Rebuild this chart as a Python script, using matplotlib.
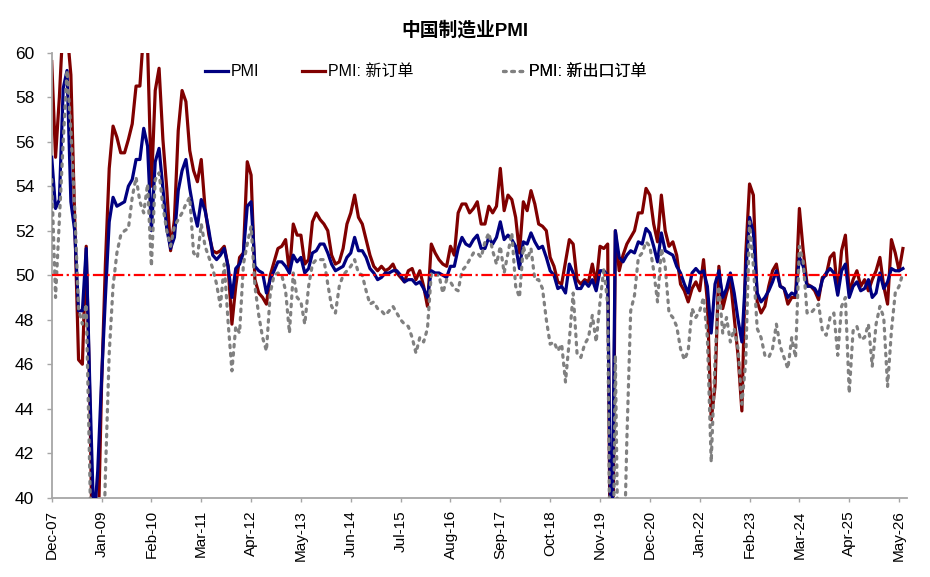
import numpy as np
import matplotlib
matplotlib.use("Agg")
import matplotlib.pyplot as plt

plt.rcParams["font.family"] = ["Liberation Sans", "Noto Sans CJK SC", "DejaVu Sans"]

# Monthly values, Dec-07 .. Jun-26
pmi = [
    55.3,
    53.0, 53.4, 58.4, 59.2, 53.3, 52.0, 48.4, 48.4, 51.2, 44.6, 38.8, 41.2,
    45.3, 49.0, 52.4, 53.5, 53.1, 53.2, 53.3, 54.0, 54.3, 55.2, 55.2, 56.6,
    55.8, 52.0, 55.1, 55.7, 53.9, 52.1, 51.2, 51.7, 53.8, 54.7, 55.2, 53.9,
    52.9, 52.2, 53.4, 52.9, 52.0, 50.9, 50.7, 50.9, 51.2, 50.4, 49.0, 50.3,
    50.5, 51.0, 53.1, 53.3, 50.4, 50.2, 50.1, 49.2, 49.8, 50.2, 50.6, 50.6,
    50.4, 50.1, 50.9, 50.6, 50.8, 50.1, 50.3, 51.0, 51.1, 51.4, 51.4, 51.0,
    50.5, 50.2, 50.3, 50.4, 50.8, 51.0, 51.7, 51.1, 51.1, 50.8, 50.3, 50.1,
    49.8, 49.9, 50.1, 50.1, 50.2, 50.2, 50.0, 49.7, 49.8, 49.8, 49.6, 49.7,
    49.4, 49.0, 50.2, 50.1, 50.1, 50.0, 49.9, 50.4, 50.4, 51.2, 51.7, 51.4,
    51.3, 51.6, 51.8, 51.2, 51.2, 51.7, 51.4, 51.7, 52.4, 51.6, 51.8, 51.6,
    51.3, 50.3, 51.5, 51.4, 51.9, 51.5, 51.2, 51.3, 50.8, 50.2, 50.0, 49.4,
    49.5, 49.2, 50.5, 50.1, 49.4, 49.4, 49.7, 49.5, 49.8, 49.3, 50.2, 50.2,
    50.0, 35.7, 52.0, 50.8, 50.6, 50.9, 51.1, 51.0, 51.5, 51.4, 52.1, 51.9,
    51.3, 50.6, 51.9, 51.1, 51.0, 50.9, 50.4, 50.1, 49.6, 49.2, 50.1, 50.3,
    50.1, 50.2, 49.5, 47.4, 49.6, 50.2, 49.0, 49.4, 50.1, 49.2, 48.0, 47.0,
    50.1, 52.6, 51.9, 49.2, 48.8, 49.0, 49.3, 49.7, 50.2, 49.5, 49.4, 49.0,
    49.2, 49.1, 50.8, 50.4, 49.5, 49.5, 49.4, 49.1, 49.8, 50.1, 50.3, 50.1,
    49.1, 50.2, 50.5, 49.0, 49.5, 49.7, 49.3, 49.4, 49.8, 49.0, 49.2, 50.1,
    49.4, 49.7, 50.3, 50.2, 50.2, 50.3,
]

new_orders = [
    59.6,
    55.3, 58.0, 61.5, 61.0, 59.0, 52.5, 46.2, 46.0, 51.3, 44.0, 33.0, 37.5,
    45.0, 50.5, 54.8, 56.7, 56.2, 55.5, 55.5, 56.1, 56.8, 58.5, 58.5, 61.0,
    60.3, 54.0, 58.3, 59.3, 56.1, 53.9, 51.1, 52.5, 56.5, 58.3, 57.8, 55.6,
    54.7, 54.2, 55.2, 53.0, 51.8, 51.1, 51.0, 51.1, 51.3, 50.4, 47.8, 49.5,
    50.8, 51.0, 55.1, 54.5, 49.8, 49.2, 49.0, 48.7, 50.0, 50.6, 51.2, 51.3,
    51.6, 50.1, 52.3, 51.8, 51.8, 50.5, 50.7, 52.4, 52.8, 52.5, 52.3, 52.0,
    50.9, 50.5, 50.6, 51.2, 52.3, 52.8, 53.6, 52.6, 52.3, 51.6, 50.9, 50.4,
    50.2, 50.4, 50.2, 50.3, 50.5, 50.1, 49.9, 49.7, 50.2, 50.3, 49.8, 50.2,
    49.5, 48.6, 51.4, 51.0, 50.7, 50.5, 50.4, 51.3, 50.9, 52.8, 53.2, 53.2,
    52.8, 53.0, 53.3, 52.3, 52.3, 53.1, 52.8, 53.1, 54.8, 52.9, 53.6, 53.4,
    52.6, 51.0, 53.3, 52.9, 53.8, 53.2, 52.3, 52.2, 52.0, 50.8, 50.4, 49.7,
    49.6, 50.6, 51.6, 51.4, 49.8, 49.6, 49.8, 49.7, 50.5, 49.6, 51.3, 51.2,
    51.4, 29.3, 52.0, 50.2, 50.9, 51.4, 51.7, 52.0, 52.8, 52.8, 53.9, 53.6,
    52.3, 51.5, 53.6, 52.0, 51.3, 51.5, 50.9, 49.6, 49.3, 48.8, 49.4, 49.7,
    49.3, 50.7, 48.8, 43.5, 45.0, 50.4, 48.5, 49.2, 49.8, 48.1, 46.4, 43.9,
    50.9, 54.1, 53.6, 48.8, 48.3, 48.6, 49.5, 50.2, 50.5, 49.5, 49.4, 48.7,
    49.0, 49.0, 53.0, 51.1, 49.6, 49.5, 49.3, 48.9, 49.9, 50.0, 50.8, 51.0,
    49.2, 51.1, 51.8, 49.2, 49.8, 50.2, 49.5, 49.8, 49.3, 49.8, 50.2, 50.8,
    49.5, 48.7, 51.6, 51.0, 50.2, 51.2,
]

export_orders = [
    54.3,
    49.0, 52.5, 56.0, 59.2, 56.5, 53.0, 48.5, 47.8, 48.7, 40.5, 29.0, 33.0,
    34.0, 41.0, 46.5, 49.5, 51.0, 51.8, 52.0, 52.1, 53.5, 54.4, 53.3, 52.8,
    54.1, 50.4, 54.3, 54.6, 53.1, 52.0, 51.3, 52.2, 52.5, 52.8, 53.2, 53.5,
    51.0, 50.8, 52.3, 51.3, 50.8, 50.3, 49.6, 48.6, 50.5, 47.9, 45.7, 47.7,
    47.4, 50.5, 51.4, 52.2, 49.5, 48.2, 47.2, 46.6, 49.2, 50.0, 50.1, 50.0,
    49.3, 47.4, 50.1, 49.0, 48.8, 47.8, 49.5, 50.5, 50.7, 50.7, 50.7, 49.6,
    48.6, 48.3, 49.5, 50.0, 50.2, 50.4, 50.7, 50.1, 50.0, 49.3, 48.7, 48.8,
    48.5, 48.4, 48.2, 48.4, 48.6, 48.3, 48.0, 47.8, 47.7, 47.2, 46.5, 47.2,
    47.0, 47.6, 50.1, 50.0, 50.0, 49.2, 49.8, 49.7, 49.4, 49.3, 50.2, 50.4,
    50.7, 51.0, 51.0, 50.8, 51.5, 51.9, 51.1, 50.5, 51.3, 50.1, 51.0, 51.9,
    49.5, 49.0, 51.3, 50.7, 51.2, 49.8, 49.8, 49.4, 48.0, 46.9, 47.0, 46.6,
    46.9, 45.2, 47.1, 49.2, 46.5, 46.3, 46.9, 47.2, 48.2, 47.0, 48.8, 50.3,
    48.7, 28.7, 46.4, 33.5, 35.3, 42.6, 48.4, 49.1, 50.8, 51.0, 51.5, 51.3,
    50.2, 48.8, 51.2, 50.4, 48.3, 48.1, 47.7, 46.7, 46.2, 46.6, 48.5, 48.1,
    48.4, 49.0, 47.2, 41.6, 46.2, 49.5, 47.4, 48.1, 47.0, 47.6, 46.7, 44.2,
    46.1, 52.4, 50.4, 47.6, 47.2, 46.4, 46.3, 46.7, 47.8, 46.8, 46.3, 45.8,
    47.2, 46.3, 51.3, 50.6, 48.3, 48.3, 48.5, 48.7, 47.5, 47.3, 48.1, 48.3,
    46.4, 48.6, 49.0, 44.7, 47.5, 47.7, 47.1, 47.2, 47.8, 45.9, 47.8, 48.6,
    48.1, 45.0, 47.5, 49.2, 49.5, 50.1,
]

tick_labels = ["Dec-07", "Jan-09", "Feb-10", "Mar-11", "Apr-12", "May-13",
               "Jun-14", "Jul-15", "Aug-16", "Sep-17", "Oct-18", "Nov-19",
               "Dec-20", "Jan-22", "Feb-23", "Mar-24", "Apr-25", "May-26"]
labels = ["PMI", "PMI: 新订单", "PMI: 新出口订单"]

months = np.arange(len(pmi))

fig = plt.figure(figsize=(9.3, 5.77), dpi=100)
ax = fig.add_axes([0.0556, 0.1374, 0.9194, 0.7713])

l_new, = ax.plot(months, new_orders, color="#800000", lw=2.3, zorder=2)
l_pmi, = ax.plot(months, pmi, color="#000080", lw=2.3, zorder=3)
l_exp, = ax.plot(months, export_orders, color="#808080", lw=2.3,
                 linestyle=(0, (0.8, 1.8)), dash_capstyle="round", zorder=4)
ax.axhline(50, color="#FF0000", lw=1.6, linestyle=(0, (5, 1.6, 1, 1.6)), zorder=5)

ax.set_xlim(0, 223)
ax.set_ylim(40, 60)
ax.set_yticks(np.arange(40, 61, 2))
ax.set_xticks(np.arange(0, 13 * len(tick_labels), 13))
ax.set_xticklabels(tick_labels, rotation=90, ha="center", va="top")

for side in ["top", "right"]:
    ax.spines[side].set_visible(False)
for side in ["left", "bottom"]:
    ax.spines[side].set_color("#A6A6A6")
    ax.spines[side].set_linewidth(1.3)
ax.tick_params(axis="y", direction="out", length=3.6, width=1.0, color="#A6A6A6",
               labelsize=12.5, pad=9)
ax.tick_params(axis="x", direction="out", length=3.0, width=1.0, color="#A6A6A6",
               labelsize=11, pad=6)

# legend entries placed separately, as in the original
leg_x = [0.179, 0.293, 0.528]
for h, lab, x in zip([l_pmi, l_new, l_exp], labels, leg_x):
    leg = ax.legend([h], [lab], loc="center left", bbox_to_anchor=(x, 0.957),
                    frameon=False, fontsize=11.5, handlelength=1.45,
                    handletextpad=0.15, borderpad=0, borderaxespad=0)
    ax.add_artist(leg)

fig.text(0.5, 0.948, "中国制造业PMI", ha="center", va="center",
         fontsize=13.5, fontweight="bold")

fig.savefig("out.png", dpi=100)
